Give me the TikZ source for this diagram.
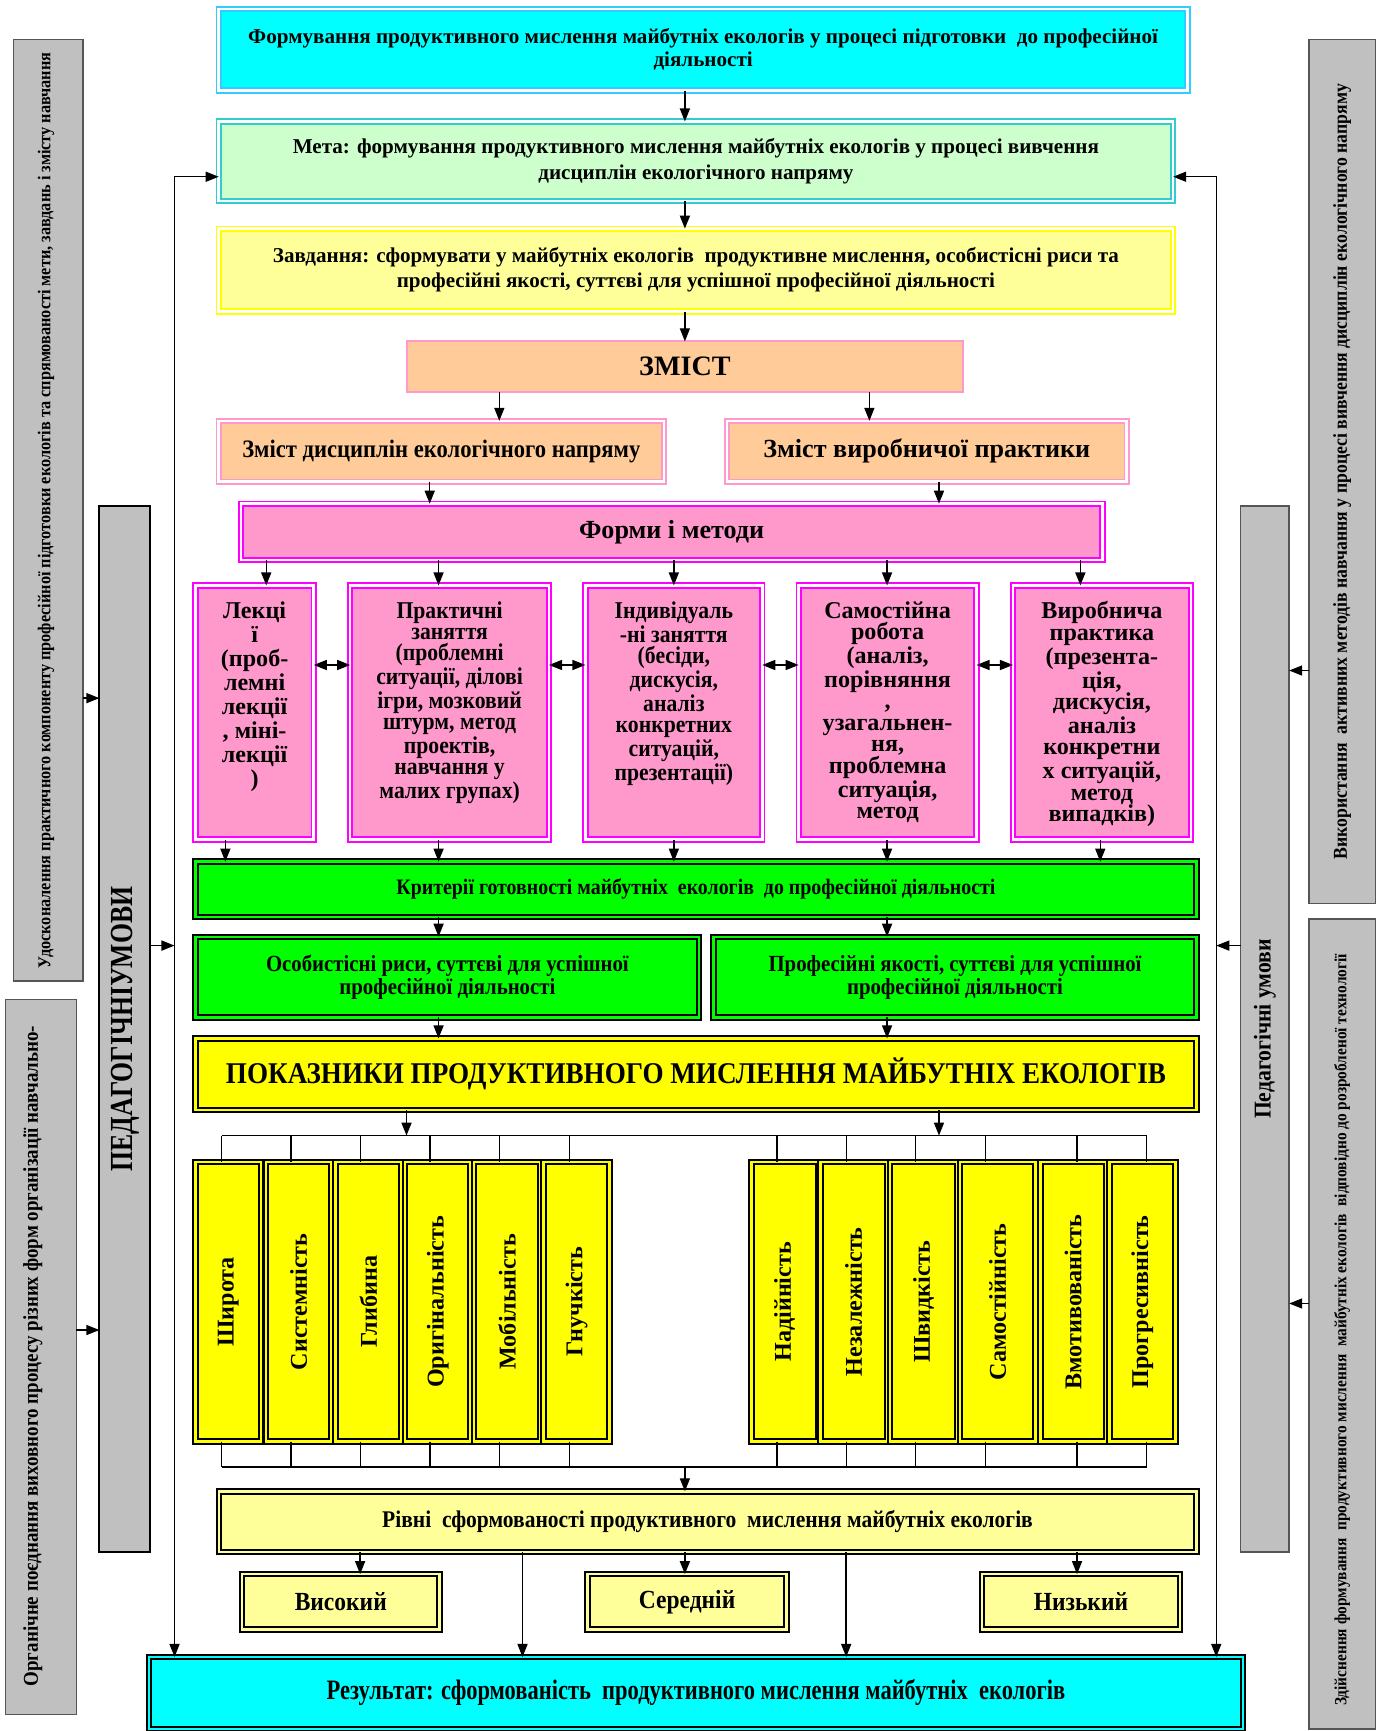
\documentclass[tikz,border=0pt]{standalone}
\usepackage{fontspec}
\setmainfont{Liberation Serif}
\newfontfamily\condA{Liberation Serif}[FakeStretch=0.9]
\newfontfamily\condB{Liberation Serif}[FakeStretch=0.8]
\usetikzlibrary{arrows.meta,calc}
\definecolor{cyanF}{HTML}{00FFFF}
\definecolor{cyanD}{HTML}{33CCFF}
\definecolor{mintF}{HTML}{CCFFCC}
\definecolor{tealD}{HTML}{33CCCC}
\definecolor{lyel}{HTML}{FFFF99}
\definecolor{yelD}{HTML}{FFFF00}
\definecolor{peach}{HTML}{FFCC99}
\definecolor{pinkD}{HTML}{FF99CC}
\definecolor{pinkF}{HTML}{FF99CC}
\definecolor{magD}{HTML}{FF00FF}
\definecolor{grnF}{HTML}{00FF00}
\definecolor{grayF}{HTML}{C0C0C0}
\definecolor{grayD}{HTML}{555555}
\newcommand\fsz[2]{\fontsize{#1}{#2}\selectfont\bfseries}
\newcommand\mkbox[7][]{%
  \pgfmathsetmacro\mkW{(#5-#3)*0.55}%
  \pgfmathsetmacro\mkH{(#6-#4)*0.55}%
  \node[#1, minimum width=\mkW pt, minimum height=\mkH pt] (#2) at ({(#3+#5)/2},{(#4+#6)/2}) {#7};%
}
\tikzset{
  every node/.style={inner sep=0pt, outer sep=0pt, font=\bfseries},
  cbox/.style={draw=#1, line width=0.9pt, double=white, double distance=1.3pt},
  kbox/.style={draw=black, line width=1pt, double=#1, double distance=1.2pt, fill=#1},
  gbox/.style={draw=grayD, line width=0.7pt, fill=grayF},
  arr/.style={line width=0.7pt, -{Triangle[length=6.5pt,width=5pt]}},
  darr/.style={line width=0.7pt, {Triangle[length=6.5pt,width=5pt]}-{Triangle[length=6.5pt,width=5pt]}},
  ln/.style={line width=0.7pt},
  coltext/.style={rotate=90, font=\fsz{12}{13}},
}
\begin{document}
\begin{tikzpicture}[x=0.55pt,y=-0.55pt]
\useasboundingbox (0,0) rectangle (1248,1567);

% ---------- top chain ----------
\mkbox[cbox=cyanD, fill=cyanF, align=center, font=\fsz{10.5}{11.5}]{title}{198}{8}{1075}{82}{Формування продуктивного мислення майбутніх екологів у процесі підготовки\ \ до професійної\\діяльності}
\mkbox[cbox=tealD, fill=mintF, align=center, font=\fsz{10.5}{12.5}]{meta}{198}{110}{1062}{182}{Мета: формування продуктивного мислення майбутніх екологів у процесі вивчення\\дисциплін екологічного напряму}
\mkbox[cbox=yelD, fill=lyel, align=center, font=\fsz{10.5}{12.5}]{zavd}{198}{207}{1062}{282}{Завдання: сформувати у майбутніх екологів\ \ продуктивне мислення, особистісні риси та\\професійні якості, суттєві для успішної професійної діяльності}
\mkbox[draw=pinkD, line width=1pt, fill=peach, font=\fsz{14}{16}]{zmist}{368}{309}{872}{355}{ЗМІСТ}
\mkbox[cbox=pinkD, fill=peach, font=\condA\fsz{12.5}{14}]{zd}{198}{381}{601}{436}{Зміст дисциплін екологічного напряму}
\mkbox[cbox=pinkD, fill=peach, font=\fsz{13}{14}]{zv}{658}{381}{1020}{436}{Зміст виробничої практики}
\mkbox[cbox=magD, fill=pinkF, font=\fsz{13}{14}]{forms}{218}{456}{998}{507}{Форми і методи}

\draw[arr] (620,0 |- title.south) -- (620,0 |- meta.north);
\draw[arr] (620,0 |- meta.south) -- (620,0 |- zavd.north);
\draw[arr] (620,0 |- zavd.south) -- (620,0 |- zmist.north);
\draw[arr] (452,0 |- zmist.south) -- (452,0 |- zd.north);
\draw[arr] (787,0 |- zmist.south) -- (787,0 |- zv.north);
\draw[arr] (389,0 |- zd.south) -- (389,0 |- forms.north);
\draw[arr] (850,0 |- zv.south) -- (850,0 |- forms.north);

% ---------- five method boxes ----------
\mkbox[cbox=magD, fill=pinkF]{lek}{177}{530}{284}{760}{}
\mkbox[cbox=magD, fill=pinkF]{prak}{317}{530}{497}{760}{}
\mkbox[cbox=magD, fill=pinkF]{ind}{530}{530}{690}{760}{}
\mkbox[cbox=magD, fill=pinkF]{sam}{723}{530}{884}{760}{}
\mkbox[cbox=magD, fill=pinkF]{vyr}{917}{530}{1078}{760}{}
\node[anchor=north, align=center, font=\fsz{12}{12}] (tlek) at ([yshift=-8pt]lek.north) {Лекці\\ї\\(проб-\\лемні\\лекції\\, міні-\\лекції\\)};
\node[anchor=north, align=center, font=\condA\fsz{12}{10.5}] (tprak) at ([yshift=-8pt]prak.north) {Практичні\\заняття\\(проблемні\\ситуації, ділові\\ігри, мозковий\\штурм, метод\\проектів,\\навчання у\\малих групах)};
\node[anchor=north, align=center, font=\condA\fsz{12}{10.6}] (tind) at ([yshift=-8pt]ind.north) {Індивідуаль\\-ні заняття\\(бесіди,\\дискусія,\\аналіз\\конкретних\\ситуацій,\\презентації)};
\node[anchor=north, align=center, font=\fsz{12}{10.7}] (tsam) at ([yshift=-8pt]sam.north) {Самостійна\\робота\\(аналіз,\\порівняння\\,\\узагальнен-\\ня,\\проблемна\\ситуація,\\метод};
\node[anchor=north, align=center, font=\fsz{12}{10.7}] (tvyr) at ([yshift=-8pt]vyr.north) {Виробнича\\практика\\(презента-\\ція,\\дискусія,\\аналіз\\конкретни\\х ситуацій,\\метод\\випадків)};

\foreach \x/\n in {241/lek,397/prak,610/ind,803/sam,978/vyr}
  \draw[arr] (\x,0 |- forms.south) -- (\x,0 |- \n.north);
\draw[darr] (lek.east |- 0,602) -- (prak.west |- 0,602);
\draw[darr] (prak.east |- 0,602) -- (ind.west |- 0,602);
\draw[darr] (ind.east |- 0,602) -- (sam.west |- 0,602);
\draw[darr] (sam.east |- 0,602) -- (vyr.west |- 0,602);

% ---------- criteria ----------
\mkbox[kbox=grnF, font=\condA\fsz{11}{12}]{krit}{177}{780}{1083}{830}{Критерії готовності майбутніх\ \ екологів\ \ до професійної діяльності}
\mkbox[kbox=grnF, align=center, font=\condA\fsz{11.5}{11.5}]{osob}{177}{848}{633}{921}{Особистісні риси, суттєві для успішної\\професійної діяльності}
\mkbox[kbox=grnF, align=center, font=\condA\fsz{11.5}{11.5}]{prof}{646}{848}{1083}{921}{Професійні якості, суттєві для успішної\\професійної діяльності}
\mkbox[kbox=yelD, font=\condA\fsz{15}{16}]{pokaz}{177}{940}{1083}{1005}{\raisebox{4pt}{ПОКАЗНИКИ ПРОДУКТИВНОГО МИСЛЕННЯ МАЙБУТНІХ ЕКОЛОГІВ}}

\foreach \x/\n in {204/lek,397/prak,610/ind,803/sam,996/vyr}
  \draw[arr] (\x,0 |- \n.south) -- (\x,0 |- krit.north);
\draw[arr] (397,0 |- krit.south) -- (397,0 |- osob.north);
\draw[arr] (803,0 |- krit.south) -- (803,0 |- prof.north);
\draw[arr] (397,0 |- osob.south) -- (397,0 |- pokaz.north);
\draw[arr] (803,0 |- prof.south) -- (803,0 |- pokaz.north);

% ---------- indicator columns ----------
\mkbox[kbox=yelD]{cL1}{177}{1052}{236.3}{1305}{}
\mkbox[kbox=yelD]{cL2}{240.6}{1052}{299.9}{1305}{}
\mkbox[kbox=yelD]{cL3}{303.6}{1052}{363.5}{1305}{}
\mkbox[kbox=yelD]{cL4}{366.6}{1052}{425.9}{1305}{}
\mkbox[kbox=yelD]{cL5}{429}{1052}{488.9}{1305}{}
\mkbox[kbox=yelD]{cL6}{492}{1052}{551.9}{1305}{}
\mkbox[kbox=yelD]{cR1}{680.4}{1052}{740.3}{1305}{}
\mkbox[kbox=yelD]{cR2}{742.8}{1052}{802.7}{1305}{}
\mkbox[kbox=yelD]{cR3}{805.8}{1052}{866.3}{1305}{}
\mkbox[kbox=yelD]{cR4}{868.8}{1052}{937.4}{1305}{}
\mkbox[kbox=yelD]{cR5}{941.8}{1052}{1001}{1305}{}
\mkbox[kbox=yelD]{cR6}{1004.2}{1052}{1064}{1305}{}
\foreach \n/\t in {cL1/Широта,cL2/Системність,cL3/Глибина,cL4/Оригінальність,cL5/Мобільність,cL6/Гнучкість,cR1/Надійність,cR2/Незалежність,cR3/Швидкість,cR4/Самостійність,cR5/Вмотивованість,cR6/Прогресивність}
  \node[coltext] (t\n) at (\n) {\t};

\foreach \n/\x in {L1/200.7,L2/263.6,L3/326.5,L4/389.4,L5/452.4,L6/515.3,R1/703.4,R2/766.4,R3/828.7,R4/892.2,R5/975.1,R6/1038}{
  \coordinate (t\n) at (\x,1028);
  \coordinate (b\n) at (\x,1328);
  \draw[ln] (t\n) -- (t\n |- c\n.north);
  \draw[ln] (c\n.south -| b\n) -- (b\n);
}
\draw[ln] (tL1) -- (tR6);
\draw[ln] (bL1) -- (bR6);
\draw[arr] (368,0 |- pokaz.south) -- (368,0 |- tL1);
\draw[arr] (850,0 |- pokaz.south) -- (850,0 |- tL1);

% ---------- levels & result ----------
\mkbox[kbox=lyel, font=\condA\fsz{11.9}{12}]{rivni}{198}{1350}{1083}{1405}{Рівні\ \ сформованості продуктивного\ \ мислення майбутніх екологів}
\mkbox[kbox=lyel, font=\condA\fsz{13}{14}]{vys}{219}{1425}{398}{1475}{Високий}
\mkbox[kbox=lyel, font=\condA\fsz{13}{14}]{ser}{532}{1425}{712}{1475}{Середній}
\mkbox[kbox=lyel, font=\condA\fsz{13}{14}]{nyz}{889}{1425}{1068}{1475}{Низький}
\mkbox[kbox=cyanF, font=\condB\fsz{14}{15}]{rez}{135}{1500}{1125}{1565}{\raisebox{1.6pt}{Результат: сформованість\ \ продуктивного мислення майбутніх\ \ екологів}}

\draw[arr] (620,0 |- bL1) -- (620,0 |- rivni.north);
\draw[arr] (326,0 |- rivni.south) -- (326,0 |- vys.north);
\draw[arr] (620,0 |- rivni.south) -- (620,0 |- ser.north);
\draw[arr] (975,0 |- rivni.south) -- (975,0 |- nyz.north);
\draw[arr] (473,0 |- rivni.south) -- (473,0 |- rez.north);
\draw[arr] (766,0 |- rivni.south) -- (766,0 |- rez.north);

% ---------- feedback lines ----------
\coordinate (fL) at (158,160);
\coordinate (fR) at (1101,160);
\draw[darr] (fL -| meta.west) -- (fL) -- (fL |- rez.north);
\draw[darr] (fR -| meta.east) -- (fR) -- (fR |- rez.north);

% ---------- side boxes ----------
\mkbox[gbox]{sA}{12}{36}{75}{888}{}
\node[rotate=90, font=\condA\fsz{9}{10}] (tA) at ([xshift=-1pt]sA.center) {Удосконалення практичного компоненту професійної підготовки екологів та спрямованості мети, завдань і змісту навчання};
\mkbox[gbox]{sB}{5}{905}{69}{1552}{}
\node[rotate=90, anchor=west, font=\condA\fsz{10.5}{11}] (tB) at ([xshift=-4pt,yshift=14pt]sB.south) {Органічне поєднання виховного процесу різних форм організації навчально-};
\mkbox[gbox, draw=black, line width=1pt]{pL}{90}{458}{136}{1405}{}
\node[rotate=90, font=\condB\fsz{16}{17}] (tpL) at (pL) {ПЕДАГОГІЧНІУМОВИ};

\mkbox[gbox]{sC}{1185}{36}{1245}{818}{}
\node[rotate=90, font=\condA\fsz{9.8}{11}] (tC) at (sC) {Використання\ \ активних методів навчання у процесі вивчення дисциплін екологічного напряму};
\mkbox[gbox]{sD}{1185}{832}{1245}{1565}{}
\node[rotate=90, font=\condA\fsz{8.5}{10}] (tD) at ([yshift=-3pt]sD.center) {Здійснення формування\ \ продуктивного мислення\ \ майбутніх екологів\ \ відповідно до розробленої технології};
\mkbox[gbox]{pR}{1123}{458}{1167}{1405}{}
\node[rotate=90, font=\condA\fsz{12}{13}] (tpR) at (pR) {Педагогічні умови};

\draw[arr] (sA.east |- 0,632) -- (pL.west |- 0,632);
\draw[arr] (sB.east |- 0,1204) -- (pL.west |- 0,1204);
\draw[arr] (pL.east |- 0,856) -- (fL |- 0,856);
\draw[arr] (sC.west |- 0,607) -- (pR.east |- 0,607);
\draw[arr] (sD.west |- 0,1180) -- (pR.east |- 0,1180);
\draw[arr] (pR.west |- 0,856) -- (fR |- 0,856);
\end{tikzpicture}
\end{document}
